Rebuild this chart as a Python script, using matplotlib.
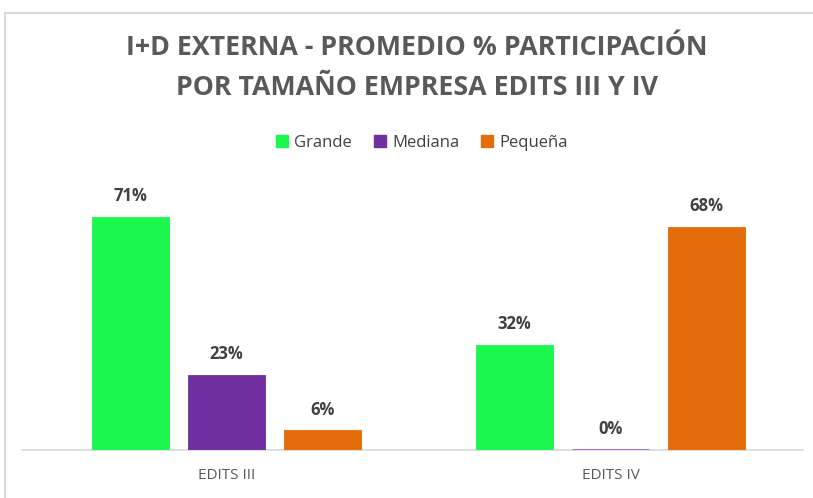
import matplotlib
matplotlib.use("Agg")
import matplotlib.pyplot as plt
from matplotlib.patches import Patch
from matplotlib.lines import Line2D
import numpy as np

categories = ["EDITS III", "EDITS IV"]
series_names = ["Grande", "Mediana", "Pequeña"]
grande = [71, 32]
mediana = [23, 0]
pequena = [6, 68]
colors = ["#1CF74F", "#7030A0", "#E46C0A"]
light_colors = ["#8CFBA7", "#A77BCA", "#F2B585"]

W, H = 813, 498
fig = plt.figure(figsize=(W / 100, H / 100), dpi=100)
plt.rcParams["font.family"] = ["Open Sans", "DejaVu Sans"]

# marco del gráfico (solo arriba e izquierda visibles)
fig.lines.append(Line2D([5 / W, 1.0], [1 - 13 / H, 1 - 13 / H], transform=fig.transFigure,
                        color="#D9D9D9", linewidth=1.5))
fig.lines.append(Line2D([5 / W, 5 / W], [0, 1 - 13 / H], transform=fig.transFigure,
                        color="#D9D9D9", linewidth=1.5))

ax = fig.add_axes([22 / W, (H - 450) / H, (803 - 22) / W, 270 / H])
x = np.arange(len(categories))
width = 0.2
step = 0.25
for i, (vals, name) in enumerate(zip([grande, mediana, pequena], series_names)):
    pos = x + (i - 1) * step
    # las barras en 0 se ven como una línea fina
    edges = [colors[i] if v else light_colors[i] for v in vals]
    lws = [0.6 if v else 2.2 for v in vals]
    ax.bar(pos, vals, width, color=colors[i], edgecolor=edges, linewidth=lws,
           label=name, zorder=3)
    for p, v in zip(pos, vals):
        ax.text(p, v + 3.6, f"{v}%", ha="center", va="bottom", fontsize=12,
                fontweight="bold", color="#404040")

ax.set_xlim(-0.532, 1.501)
ax.set_ylim(0, 82.3)
ax.set_yticks([])
ax.set_xticks(x)
ax.set_xticklabels(categories, fontsize=11, color="#595959")
ax.tick_params(axis="x", length=0, pad=13)
for s in ["top", "right", "left"]:
    ax.spines[s].set_visible(False)
ax.spines["bottom"].set_color("#D9D9D9")
ax.spines["bottom"].set_linewidth(1.2)
ax.spines["bottom"].set_zorder(1)

fig.text(417 / W, 1 - 48 / H, "I+D EXTERNA - PROMEDIO % PARTICIPACIÓN",
         ha="center", va="center", fontsize=19.3, fontweight="bold", color="#595959")
fig.text(417 / W, 1 - 88 / H, "POR TAMAÑO EMPRESA EDITS III Y IV",
         ha="center", va="center", fontsize=19.3, fontweight="bold", color="#595959")

handles = [Patch(color=c, label=n) for c, n in zip(colors, series_names)]
fig.legend(handles=handles, loc="center", bbox_to_anchor=(422 / W, 1 - 143 / H),
           ncol=3, frameon=False, fontsize=12, handlelength=0.7, handleheight=0.7,
           handletextpad=0.4, columnspacing=1.3, labelcolor="#404040")

fig.savefig("out.png", dpi=100)
